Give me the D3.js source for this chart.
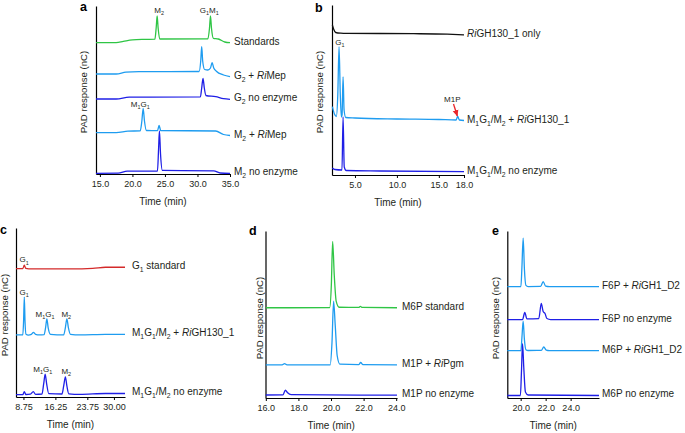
<!DOCTYPE html>
<html>
<head>
<meta charset="utf-8">
<script src="https://cdn.jsdelivr.net/npm/d3@7"></script>
<style>
  body { margin: 0; background: #fff; }
  svg { display: block; }
</style>
</head>
<body>
<svg id="chart" width="685" height="433"></svg>
<script>
// ---------- data (time in min, PAD response in arbitrary nC units, traces stacked) ----------

// panel a
const aTicks = [15, 20, 25, 30, 35];
const aStandards = [[14.4,131.3],[17.5,131.3],[18.6,132.6],[20,134.2],[22,134.6],[23.45,134.8],[23.65,146],[23.8,158],[23.95,146],[24.2,135],[31.6,135.2],[31.85,146],[32.0,158],[32.15,146],[32.45,135.6],[33.2,135],[34.2,132],[35,131.3]];
const aG2Mep = [[14.4,100],[17.5,100],[19,101.8],[21,102.3],[30.25,102.5],[30.5,113],[30.65,127.3],[30.8,113],[31.1,104.5],[31.6,104],[32.0,106],[32.25,111.3],[32.5,106],[32.9,102.8],[34,99],[35,97.3]];
const aG2None = [[14.4,75],[17.5,75],[19.5,76.8],[30.45,77.2],[30.65,86],[30.85,95.7],[31.05,86],[31.3,78.5],[32.8,77.3],[34,75.3],[35,74.7]];
const aM2Mep = [[14.4,41.3],[17.5,41.3],[19.3,42.8],[21.2,43.2],[21.45,53],[21.65,65.7],[21.85,53],[22.15,43.5],[23.85,43.3],[24.1,48.5],[24.35,43.5],[32.8,43],[34,39.5],[35,38.5]];
const aM2None = [[14.4,0.7],[17.8,0.8],[19.2,2.8],[23.85,3],[24.02,25],[24.15,43],[24.32,20],[24.6,3.6],[32.5,3.2],[33.5,1],[35,0.7]];
const aLabels = ['Standards', 'G_{2} + *Ri*Mep', 'G_{2} no enzyme', 'M_{2} + *Ri*Mep', 'M_{2} no enzyme'];
const aPeaks = [['M_{2}', 24.1, 164], ['G_{1}M_{1}', 31.8, 164], ['M_{1}G_{1}', 21.2, 70]];

// panel b
const bTicks = [5, 10, 15, 18];
const bEnzymeOnly = [[2.3,150],[2.45,146],[2.7,142.5],[3.3,141.8],[4,141.6],[8,141.5],[12,141.3],[16,140.8],[18,140.2]];
const bDigest = [[2.3,68.3],[2.55,61],[2.78,58.5],[2.95,80],[3.1,128.3],[3.25,80],[3.38,58],[3.46,60],[3.58,98],[3.7,65],[3.9,57.5],[5,57],[10,56],[15,55.5],[17.05,55],[17.25,58.5],[17.45,55],[18,54.5]];
const bNone = [[2.3,7],[2.6,5.5],[3.45,5],[3.58,58],[3.72,8],[3.95,4.5],[8,4],[18,3.3]];
const bLabels = ['*Ri*GH130_1 only', 'M_{1}G_{1}/M_{2} + *Ri*GH130_1', 'M_{1}G_{1}/M_{2} no enzyme'];
const bPeaks = [['G_{1}', 3.2, 133], ['M1P', 16.6, 76]];
const bArrow = [[16.75, 71], [17.2, 59]];

// panel c
const cTicks = [8.75, 16.25, 23.75, 30];
const cG1Std = [[7,127.7],[8.6,127.7],[8.95,131],[9.3,127.8],[10,127.4],[20,127.4],[25,127.9],[28,129],[32.6,129]];
const cDigest = [[7,61.7],[8.6,61.7],[8.78,75],[8.95,99.3],[9.12,75],[9.35,62.3],[9.9,61.5],[10.6,62.2],[11.1,64.3],[11.6,62.3],[12.5,61.7],[13.6,62],[13.95,69],[14.25,77.7],[14.55,69],[15.1,62.3],[18.2,61.7],[18.6,69],[18.95,77.7],[19.3,69],[19.8,62.2],[22,61.7],[28,62.2],[32.6,62.2]];
const cNone = [[7,2.3],[8.6,2.3],[8.95,5.3],[9.3,2.5],[10.4,2.8],[11.05,5.3],[11.6,2.6],[13.1,3],[13.5,13],[13.85,22.7],[14.2,13],[14.7,3.3],[17.8,3],[18.2,11],[18.6,20],[18.95,11],[19.4,3.2],[22,2.6],[28,3.5],[32.6,3.5]];
const cLabels = ['G_{1} standard', 'M_{1}G_{1}/M_{2} + *Ri*GH130_1', 'M_{1}G_{1}/M_{2} no enzyme'];
const cPeaks = [['G_{1}', 8.9, 136.7], ['G_{1}', 8.9, 104.3], ['M_{1}G_{1}', 13.8, 82.7], ['M_{2}', 18.8, 82.7], ['M_{1}G_{1}', 13.3, 27.7], ['M_{2}', 18.8, 26]];

// panel d
const dTicks = [16, 18, 20, 22, 24];
const dStd = [[16,89.7],[19.92,89.8],[20.02,112],[20.1,155.7],[20.2,122],[20.32,96],[20.5,90.2],[21.7,90],[21.8,91],[21.92,90],[24.05,89.7]];
const dPgm = [[16,33],[17.0,33],[17.15,34.2],[17.3,33],[19.95,33],[20.06,55],[20.16,96.3],[20.26,72],[20.38,42],[20.55,33.6],[21.7,33.2],[21.82,35.3],[21.96,33.2],[24.05,33]];
const dNone = [[16,3],[17.05,3.1],[17.2,7.7],[17.32,5.5],[17.55,3.3],[24.05,2.8]];
const dLabels = ['M6P standard', 'M1P + *Ri*Pgm', 'M1P no enzyme'];

// panel e
const eTicks = [20, 22, 24];
const eF6PDigest = [[18.93,110.7],[20.02,110.7],[20.1,130],[20.2,159],[20.3,128],[20.42,112],[20.6,110.8],[21.6,110.9],[21.8,115.7],[22.0,111.2],[22.3,110.7],[26.27,110.7]];
const eF6PNone = [[18.93,78],[20.15,78],[20.33,85],[20.5,78.6],[21.45,79],[21.65,94],[21.8,86],[21.95,84],[22.1,79],[22.4,78],[26.27,78]];
const eM6PDigest = [[18.93,47],[20.02,47],[20.1,60],[20.2,76.3],[20.3,58],[20.42,48],[20.6,47.2],[21.65,47.3],[21.85,50.7],[22.05,47.5],[22.3,47],[26.27,47]];
const eM6PNone = [[18.93,2.5],[19.98,2.5],[20.06,25],[20.15,54],[20.25,30],[20.38,6],[20.6,3],[26.27,2.5]];
const eLabels = ['F6P + *Ri*GH1_D2', 'F6P no enzyme', 'M6P + *Ri*GH1_D2', 'M6P no enzyme'];

// ---------- styling ----------
const FONT = '"Liberation Sans", Arial, Helvetica, sans-serif';
const GREEN = '#2fc545', LIGHT = '#1e9cf0', DARK = '#1f1fe6', RED = '#d42a2a', BLACK = '#111';
const TEXT = '#231f20';

const svg = d3.select('#chart').attr('font-family', FONT);

svg.append('defs').append('marker')
    .attr('id', 'redhead')
    .attr('viewBox', '0 -5 10 10')
    .attr('refX', 9)
    .attr('refY', 0)
    .attr('orient', 'auto')
    .attr('markerWidth', 5)
    .attr('markerHeight', 5)
    .append('path')
    .attr('d', 'M0,-4.5L10,0L0,4.5Z')
    .attr('fill', '#e8262b');

// simple markup: _{x} subscript, *x* italic
function rich(text, str, size) {
    const parts = str.split(/(_\{[^}]*\}|\*[^*]+\*)/).filter(s => s.length);
    let shifted = false;
    parts.forEach(s => {
        const ts = text.append('tspan');
        if (s.startsWith('_{')) {
            ts.text(s.slice(2, -1)).attr('font-size', size * 0.68).attr('dy', size * 0.3);
            shifted = true;
        } else {
            if (shifted) { ts.attr('dy', -size * 0.3); shifted = false; }
            if (s.startsWith('*')) ts.text(s.slice(1, -1)).attr('font-style', 'italic');
            else ts.text(s);
        }
    });
}

function drawPanel(p) {
    const g = svg.append('g');
    const x = d3.scaleLinear().domain(p.xDomain).range(p.xRange);
    const y = d3.scaleLinear().domain(p.yDomain).range(p.yRange);
    const line = d3.line()
        .x(d => x(d[0]))
        .y(d => y(d[1]))
        .curve(d3.curveMonotoneX);

    // axes
    const xAxis = g.append('g')
        .attr('transform', `translate(0,${p.yRange[0]})`)
        .call(d3.axisBottom(x)
            .tickValues(p.ticks)
            .tickFormat(d3.format(p.fmt))
            .tickSize(3)
            .tickSizeOuter(0)
            .tickPadding(4));
    xAxis.attr('font-family', FONT).attr('font-size', 9);
    xAxis.select('.domain').attr('stroke', '#000').attr('stroke-width', 1.2);
    xAxis.selectAll('.tick line').attr('stroke', '#000').attr('stroke-width', 1);
    xAxis.selectAll('.tick text').attr('fill', TEXT);

    const yAxis = g.append('g')
        .attr('transform', `translate(${p.xRange[0]},0)`)
        .call(d3.axisLeft(y).tickValues([]).tickSizeOuter(0));
    yAxis.select('.domain').attr('stroke', '#000').attr('stroke-width', 1.2);

    g.append('text')
        .attr('x', (p.xRange[0] + p.xRange[1]) / 2)
        .attr('y', p.yRange[0] + 27)
        .attr('dy', '0.35em')
        .attr('text-anchor', 'middle')
        .attr('font-size', 10)
        .attr('fill', TEXT)
        .text('Time (min)');

    g.append('text')
        .attr('transform', `translate(${p.yLabel[0]},${p.yLabel[1]}) rotate(-90)`)
        .attr('dy', '0.35em')
        .attr('text-anchor', 'middle')
        .attr('font-size', 9.6)
        .attr('fill', TEXT)
        .text('PAD response (nC)');

    g.append('text')
        .attr('x', p.letter[0])
        .attr('y', p.letter[1])
        .attr('font-size', 12.5)
        .attr('font-weight', 'bold')
        .attr('fill', '#000')
        .text(p.name);

    // traces
    p.traces.forEach((vals, i) => {
        g.append('path')
            .datum(vals)
            .attr('d', line)
            .attr('fill', 'none')
            .attr('stroke', p.colors[i])
            .attr('stroke-width', 1.3)
            .attr('stroke-linejoin', 'round');

        const last = vals[vals.length - 1];
        const t = g.append('text')
            .attr('x', p.xRange[1] + p.labelGap)
            .attr('y', y(last[1]) - 1.5)
            .attr('dy', '0.35em')
            .attr('font-size', 10)
            .attr('fill', TEXT);
        rich(t, p.labels[i], 10);
    });

    // peak annotations
    (p.peaks || []).forEach(pk => {
        const t = g.append('text')
            .attr('x', x(pk[1]))
            .attr('y', y(pk[2]))
            .attr('dy', '0.35em')
            .attr('text-anchor', 'middle')
            .attr('font-size', 8)
            .attr('fill', TEXT);
        rich(t, pk[0], 8);
    });

    if (p.arrow) {
        g.append('line')
            .attr('x1', x(p.arrow[0][0])).attr('y1', y(p.arrow[0][1]))
            .attr('x2', x(p.arrow[1][0])).attr('y2', y(p.arrow[1][1]))
            .attr('stroke', '#e8262b')
            .attr('stroke-width', 1.3)
            .attr('marker-end', 'url(#redhead)');
    }
}

const panels = [
    { name: 'a', xDomain: [14.4, 35], xRange: [96, 230], yDomain: [0, 168], yRange: [174, 6],
      ticks: aTicks, fmt: '.1f', letter: [80, 11], yLabel: [84, 92], labelGap: 4,
      traces: [aStandards, aG2Mep, aG2None, aM2Mep, aM2None],
      colors: [GREEN, LIGHT, DARK, LIGHT, DARK], labels: aLabels, peaks: aPeaks },
    { name: 'b', xDomain: [2.26, 18], xRange: [332, 464], yDomain: [0, 170], yRange: [175, 5],
      ticks: bTicks, fmt: '.1f', letter: [315, 12], yLabel: [320, 92], labelGap: 3,
      traces: [bEnzymeOnly, bDigest, bNone],
      colors: [BLACK, LIGHT, DARK], labels: bLabels, peaks: bPeaks, arrow: bArrow },
    { name: 'c', xDomain: [7, 32.6], xRange: [16, 125], yDomain: [0, 168], yRange: [397, 228],
      ticks: cTicks, fmt: '.2f', letter: [0, 234], yLabel: [5, 315], labelGap: 7,
      traces: [cG1Std, cDigest, cNone],
      colors: [RED, LIGHT, DARK], labels: cLabels, peaks: cPeaks },
    { name: 'd', xDomain: [15.98, 24.05], xRange: [265.5, 397], yDomain: [0, 166], yRange: [398, 231],
      ticks: dTicks, fmt: '.1f', letter: [249, 235], yLabel: [260, 318], labelGap: 5,
      traces: [dStd, dPgm, dNone],
      colors: [GREEN, LIGHT, DARK], labels: dLabels },
    { name: 'e', xDomain: [18.93, 26.27], xRange: [507.3, 599], yDomain: [0, 166], yRange: [398, 231],
      ticks: eTicks, fmt: '.1f', letter: [492, 235], yLabel: [496, 318], labelGap: 3,
      traces: [eF6PDigest, eF6PNone, eM6PDigest, eM6PNone],
      colors: [LIGHT, DARK, LIGHT, DARK], labels: eLabels }
];

panels.forEach(drawPanel);
</script>
</body>
</html>
